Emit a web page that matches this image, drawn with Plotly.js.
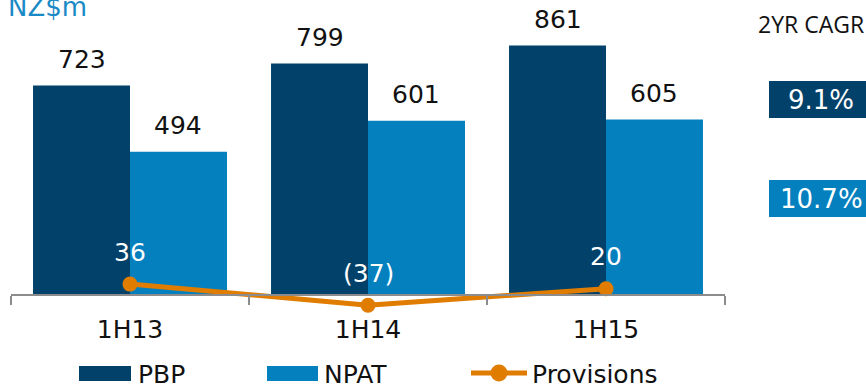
<!DOCTYPE html>
<html>
<head>
<meta charset="utf-8">
<script src="https://cdn.plot.ly/plotly-3.0.1.min.js"></script>
<style>
  html, body { margin: 0; padding: 0; background: #fff; }
  #chart { width: 866px; height: 386px; }
</style>
</head>
<body>
<div id="chart"></div>
<script>
// Half-year periods
const periods = ['1H13', '1H14', '1H15'];
// Pre-provision profit, NZ$m
const pbp = [723, 799, 861];
// Net profit after tax, NZ$m
const npat = [494, 601, 605];
// Provisions charge, NZ$m
const provisions = [36, -37, 20];
// Two-year compound growth rates
const cagrLabels = ['9.1%', '10.7%'];

const NAVY = '#02426a';
const BLUE = '#0480bf';
const ORANGE = '#e07c00';
const FONT = 'DejaVu Sans, Verdana, sans-serif';

// Plot geometry (pixels)
const W = 866, H = 386;
const M = { l: 11, r: 141, t: 0, b: 66 };
const plotW = W - M.l - M.r;
const plotH = H - M.t - M.b;
const zeroPx = 294.5;          // pixel row of the value 0
const pxPerUnit = 0.2892;      // vertical scale
const yTop = (zeroPx - M.t) / pxPerUnit;
const yBottom = yTop - plotH / pxPerUnit;
const axisPos = (0 - yBottom) / (yTop - yBottom);

const barWidthPx = plotW / periods.length * 0.815 / 2;

// helpers to place layout items in pixel terms
const px = x => (x - M.l) / plotW;
const py = y => (M.t + plotH - y) / plotH;

const fmtProv = v => v < 0 ? '(' + Math.abs(v) + ')' : String(v);

const traces = [
  {
    type: 'bar', name: 'PBP', x: periods, y: pbp,
    marker: { color: NAVY }, hoverinfo: 'skip', showlegend: false
  },
  {
    type: 'bar', name: 'NPAT', x: periods, y: npat,
    marker: { color: BLUE }, hoverinfo: 'skip', showlegend: false
  },
  {
    type: 'scatter', mode: 'lines+markers', name: 'Provisions',
    x: periods, y: provisions, cliponaxis: false,
    line: { color: ORANGE, width: 5 },
    marker: { color: ORANGE, size: 15 },
    hoverinfo: 'skip', showlegend: false
  }
];

const annotations = [];
// value labels above each bar and above each provisions point
periods.forEach((p, i) => {
  annotations.push({
    x: p, y: pbp[i], xref: 'x', yref: 'y', text: String(pbp[i]),
    showarrow: false, xshift: -barWidthPx / 2, yshift: 26, yanchor: 'middle',
    font: { family: FONT, size: 25, color: '#111' }
  });
  annotations.push({
    x: p, y: npat[i], xref: 'x', yref: 'y', text: String(npat[i]),
    showarrow: false, xshift: barWidthPx / 2, yshift: 26, yanchor: 'middle',
    font: { family: FONT, size: 25, color: '#111' }
  });
  annotations.push({
    x: p, y: provisions[i], xref: 'x', yref: 'y', text: fmtProv(provisions[i]),
    showarrow: false, yshift: 32, yanchor: 'middle',
    font: { family: FONT, size: 25, color: '#ffffff' }
  });
});

// unit label
annotations.push({
  xref: 'paper', yref: 'paper', x: px(6), y: py(7), xanchor: 'left', yanchor: 'middle',
  text: 'NZ$m', showarrow: false, font: { family: FONT, size: 26, color: '#1a8ac6' }
});

// growth-rate panel
annotations.push({
  xref: 'paper', yref: 'paper', x: px(810.5), y: py(24), xanchor: 'center', yanchor: 'middle',
  text: '2YR CAGR', showarrow: false, font: { family: 'Open Sans, sans-serif', size: 23, color: '#111' }
});
const shapes = [
  { type: 'rect', xref: 'paper', yref: 'paper', x0: px(769), x1: px(874), y0: py(118), y1: py(81),
    fillcolor: NAVY, line: { width: 0 } },
  { type: 'rect', xref: 'paper', yref: 'paper', x0: px(769), x1: px(874), y0: py(217), y1: py(180),
    fillcolor: BLUE, line: { width: 0 } }
];
[[cagrLabels[0], 99.5], [cagrLabels[1], 198.5]].forEach(([t, cy]) => {
  annotations.push({
    xref: 'paper', yref: 'paper', x: px(821), y: py(cy), xanchor: 'center', yanchor: 'middle',
    text: t, showarrow: false, font: { family: FONT, size: 26, color: '#ffffff' }
  });
});

// legend
const legendY = 373;
shapes.push(
  { type: 'rect', xref: 'paper', yref: 'paper', x0: px(79), x1: px(131), y0: py(381), y1: py(366),
    fillcolor: NAVY, line: { width: 0 } },
  { type: 'rect', xref: 'paper', yref: 'paper', x0: px(267), x1: px(318), y0: py(381), y1: py(366),
    fillcolor: BLUE, line: { width: 0 } },
  { type: 'line', xref: 'paper', yref: 'paper', x0: px(471), x1: px(527), y0: py(legendY), y1: py(legendY),
    line: { color: ORANGE, width: 5 } },
  { type: 'circle', xref: 'paper', yref: 'paper', x0: px(490.5), x1: px(507.5), y0: py(legendY + 8.5), y1: py(legendY - 8.5),
    fillcolor: ORANGE, line: { width: 0 } }
);
[['PBP', 136], ['NPAT', 322], ['Provisions', 530]].forEach(([t, x]) => {
  annotations.push({
    xref: 'paper', yref: 'paper', x: px(x), y: py(legendY + 1.5), xanchor: 'left', yanchor: 'middle',
    text: t, showarrow: false, font: { family: FONT, size: 25, color: '#111' }
  });
});

const layout = {
  width: W, height: H,
  margin: M,
  paper_bgcolor: '#ffffff', plot_bgcolor: '#ffffff',
  barmode: 'group', bargap: 0.185, bargroupgap: 0,
  showlegend: false,
  xaxis: {
    type: 'category', categoryorder: 'array', categoryarray: periods,
    range: [-0.5, periods.length - 0.5],
    anchor: 'free', position: axisPos,
    showline: true, linecolor: '#8c8c8c', linewidth: 2,
    ticks: 'outside', tickson: 'boundaries', ticklen: 9, tickwidth: 2, tickcolor: '#8c8c8c',
    ticklabelstandoff: 12,
    tickfont: { family: FONT, size: 25, color: '#111' },
    showgrid: false, zeroline: false, fixedrange: true
  },
  yaxis: {
    range: [yBottom, yTop], visible: false, showgrid: false, zeroline: false, fixedrange: true
  },
  annotations: annotations,
  shapes: shapes
};

Plotly.newPlot('chart', traces, layout, { staticPlot: true, displayModeBar: false });
</script>
</body>
</html>
